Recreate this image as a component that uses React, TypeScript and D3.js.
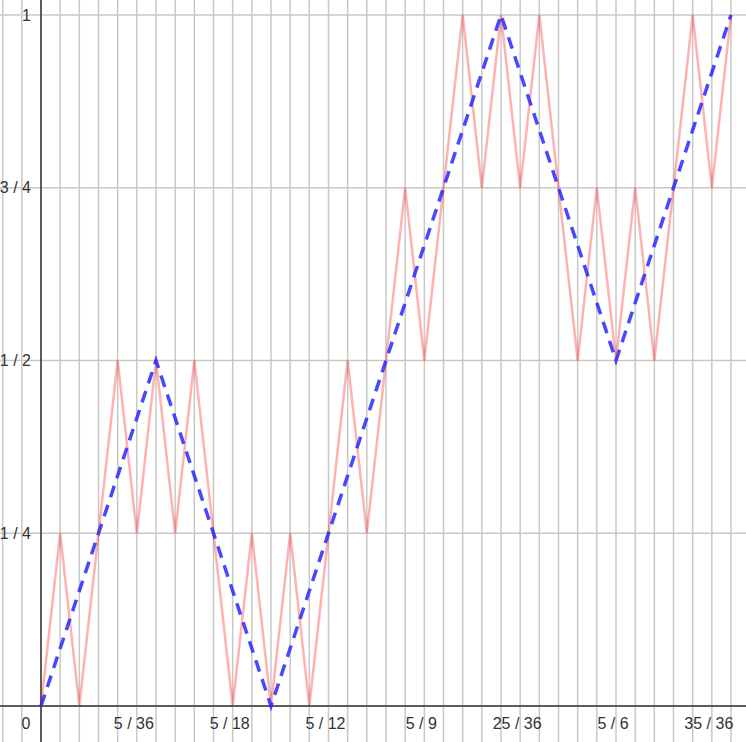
import React from "react";
import * as d3 from "d3";

const W = 746;
const H = 742;

// red curve: x = k/36, y values
const redX: number[] = d3.range(0, 37).map((k) => k / 36);
const redY: number[] = [
  0, 0.25, 0, 0.25, 0.5, 0.25, 0.5, 0.25, 0.5, 0.25, 0, 0.25, 0, 0.25, 0, 0.25,
  0.5, 0.25, 0.5, 0.75, 0.5, 0.75, 1, 0.75, 1, 0.75, 1, 0.75, 0.5, 0.75, 0.5,
  0.75, 0.5, 0.75, 1, 0.75, 1,
];
// blue dashed curve
const blueX: number[] = [0, 6 / 36, 12 / 36, 24 / 36, 30 / 36, 1];
const blueY: number[] = [0, 0.5, 0, 1, 0.5, 1];

const xTickValues: number[] = [5 / 36, 10 / 36, 15 / 36, 20 / 36, 25 / 36, 30 / 36, 35 / 36];
const xTickLabels: string[] = ["5 / 36", "5 / 18", "5 / 12", "5 / 9", "25 / 36", "5 / 6", "35 / 36"];
const yTickValues: number[] = [0.25, 0.5, 0.75, 1];
const yTickLabels: string[] = ["1 / 4", "1 / 2", "3 / 4", "1"];

export default function App() {
  const x = d3.scaleLinear().domain([0, 1]).range([41, 731]);
  const y = d3.scaleLinear().domain([0, 1]).range([706, 15]);

  const vGrid = d3.range(-3, 40).map((k) => k / 36).filter((v) => x(v) >= 0 && x(v) <= W);
  const hGrid = [0, 0.25, 0.5, 0.75, 1];

  const line = d3
    .line<[number, number]>()
    .x((d) => x(d[0]))
    .y((d) => y(d[1]));

  const redPts: [number, number][] = redX.map((v, i) => [v, redY[i]]);
  const bluePts: [number, number][] = blueX.map((v, i) => [v, blueY[i]]);

  const font = "Arial, 'Liberation Sans', sans-serif";

  return (
    <svg
      width={W}
      height={H}
      style={{ position: "absolute", left: 0, top: 0, background: "#fff" }}
    >
      <rect width={W} height={H} fill="#fff" />
      <g stroke="#c8c8c8" strokeWidth={1.5}>
        {vGrid.map((v, i) => (
          <line key={"v" + i} x1={x(v)} x2={x(v)} y1={0} y2={H} />
        ))}
        {hGrid.map((v, i) => (
          <line key={"h" + i} x1={0} x2={W} y1={y(v)} y2={y(v)} />
        ))}
      </g>
      <line x1={0} x2={W} y1={y(0)} y2={y(0)} stroke="#333" strokeWidth={1.5} />
      <line x1={x(0)} x2={x(0)} y1={0} y2={H} stroke="#333" strokeWidth={1.5} />
      <path
        d={line(redPts) || ""}
        fill="none"
        stroke="rgba(255,0,0,0.3)"
        strokeWidth={2.5}
        strokeLinejoin="miter"
      />
      <path
        d={line(bluePts) || ""}
        fill="none"
        stroke="rgba(40,40,255,0.85)"
        strokeWidth={3.5}
        strokeDasharray="12,8"
      />
      <g fontFamily={font} fontSize={16} fill="#333">
        <text x={x(0) - 15} y={729} textAnchor="middle">0</text>
        {xTickValues.map((v, i) => (
          <text key={"xt" + i} x={x(v) - 3} y={729} textAnchor="middle">
            {xTickLabels[i]}
          </text>
        ))}
        {yTickValues.map((v, i) => (
          <text key={"yt" + i} x={31} y={y(v) + 5.5} textAnchor="end">
            {yTickLabels[i]}
          </text>
        ))}
      </g>
    </svg>
  );
}
